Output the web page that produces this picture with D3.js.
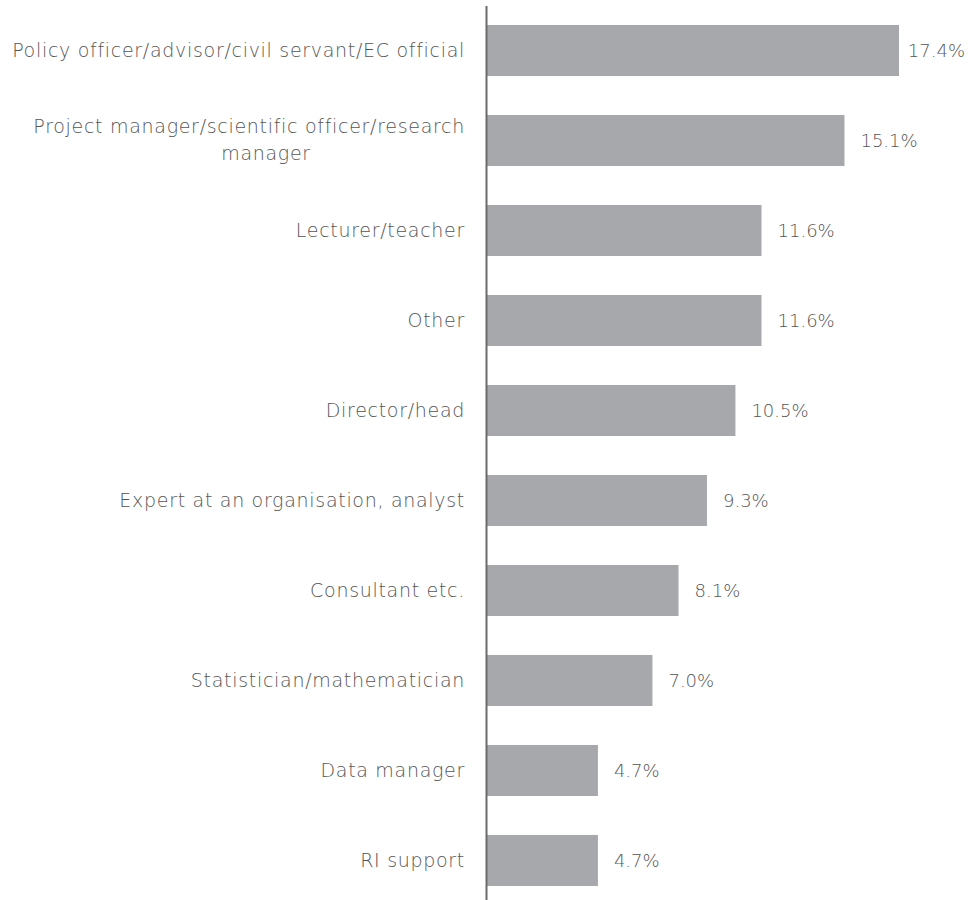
<!DOCTYPE html>
<html>
<head>
<meta charset="utf-8">
<script src="https://cdn.jsdelivr.net/npm/d3@7/dist/d3.min.js"></script>
<style>
  html, body { margin: 0; padding: 0; background: #fff; }
  svg { display: block; }
  text { font-family: "DejaVu Sans", sans-serif; font-weight: 200; fill: #555555; }
  .cat { letter-spacing: 0.7px; }
</style>
</head>
<body>
<svg id="chart" width="971" height="900"></svg>
<script>
// Roles of respondents (share of answers, %)
const categories = [
  "Policy officer/advisor/civil servant/EC official",
  "Project manager/scientific officer/research manager",
  "Lecturer/teacher",
  "Other",
  "Director/head",
  "Expert at an organisation, analyst",
  "Consultant etc.",
  "Statistician/mathematician",
  "Data manager",
  "RI support"
];
const values = [17.4, 15.1, 11.6, 11.6, 10.5, 9.3, 8.1, 7.0, 4.7, 4.7];
// Category labels split over lines where the text wraps
const labelLines = [
  ["Policy officer/advisor/civil servant/EC official"],
  ["Project manager/scientific officer/research", "manager"],
  ["Lecturer/teacher"],
  ["Other"],
  ["Director/head"],
  ["Expert at an organisation, analyst"],
  ["Consultant etc."],
  ["Statistician/mathematician"],
  ["Data manager"],
  ["RI support"]
];

const W = 971;
const svg = d3.select("#chart");
const x0 = 486.5;
const fontSize = 19;

const x = d3.scaleLinear().domain([0, 17.4]).range([x0, 899]);
const y = d3.scaleBand()
  .domain(categories)
  .range([5.5, 905.5])
  .paddingInner(0.433)
  .paddingOuter(0.2167);

// Bars
svg.append("g").selectAll("rect")
  .data(values)
  .join("rect")
  .attr("x", x(0))
  .attr("y", (d, i) => y(categories[i]))
  .attr("width", d => x(d) - x(0))
  .attr("height", y.bandwidth())
  .attr("fill", "#a7a8ab");

// Value labels, pulled back inside the canvas when they would overflow
svg.append("g").selectAll("text")
  .data(values)
  .join("text")
  .attr("class", "val")
  .attr("y", (d, i) => y(categories[i]) + y.bandwidth() / 2)
  .attr("dy", "0.35em")
  .attr("font-size", 18)
  .text(d => d.toFixed(1) + "%")
  .each(function (d) {
    const w = this.getComputedTextLength();
    const px = Math.min(x(d) + 16, W - 6 - w);
    d3.select(this).attr("x", px);
  });

// Category labels
const lab = svg.append("g").selectAll("text")
  .data(labelLines)
  .join("text")
  .attr("class", "cat")
  .attr("font-size", fontSize)
  .attr("text-anchor", "end")
  .attr("y", (d, i) => y(categories[i]) + y.bandwidth() / 2);

lab.each(function (lines) {
  const t = d3.select(this);
  if (lines.length === 1) {
    t.append("tspan").attr("x", 465).attr("dy", "0.33em").text(lines[0]);
  } else {
    t.append("tspan").attr("x", 465).attr("dy", "-0.39em").text(lines[0]);
    t.append("tspan").attr("x", 266).attr("text-anchor", "middle").attr("dy", "1.42em").text(lines[1]);
  }
});

// Category axis line
svg.append("line")
  .attr("x1", x0).attr("x2", x0)
  .attr("y1", 6).attr("y2", 900)
  .attr("stroke", "#6b6b6b")
  .attr("stroke-width", 2);
</script>
</body>
</html>
